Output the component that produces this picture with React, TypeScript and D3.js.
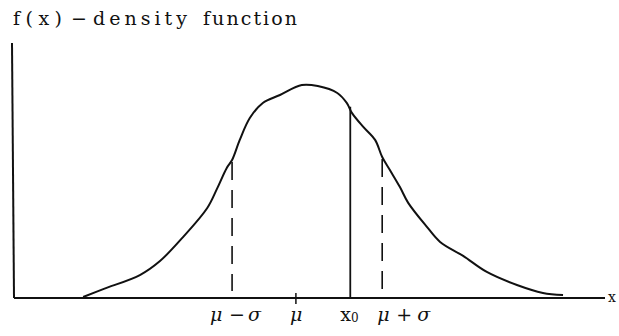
import React from "react";
import * as d3 from "d3";

// Density curve, sampled by hand along a smooth bell shape (x in arbitrary units, f(x) relative)
const curveX = [11.7, 15.1, 21.3, 24.7, 28.6, 32.7, 34.4, 36.0, 36.9, 38.2, 39.9, 42.1, 45.0, 48.7, 51.4, 54.7, 56.3, 57.2, 59.1, 61.1, 62.3, 63.6, 65.3, 66.7, 69.9, 72.1, 76.0, 80.0, 85.1, 89.5, 92.9];
const curveY = [0.004, 0.035, 0.09, 0.145, 0.239, 0.353, 0.431, 0.51, 0.541, 0.62, 0.706, 0.765, 0.796, 0.835, 0.831, 0.804, 0.765, 0.725, 0.671, 0.62, 0.553, 0.502, 0.435, 0.373, 0.278, 0.22, 0.165, 0.102, 0.051, 0.02, 0.012];

// Marked positions on the x axis
const muMinusSigma = 36.9;
const mu = 47.7;
const x0 = 56.9;
const muPlusSigma = 62.3;

const W = 619;
const H = 336;

const xScale = d3.scaleLinear().domain([0, 100]).range([14, 605]);
const yScale = d3.scaleLinear().domain([0, 1]).range([298, 43]);

const pts: [number, number][] = curveX.map((x, i) => [x, curveY[i]]);

function fAt(x: number): number {
  const i = d3.bisector((d: [number, number]) => d[0]).left(pts, x);
  if (i <= 0) return pts[0][1];
  if (i >= pts.length) return pts[pts.length - 1][1];
  const [xa, ya] = pts[i - 1];
  const [xb, yb] = pts[i];
  return ya + ((yb - ya) * (x - xa)) / (xb - xa);
}

const line = d3
  .line<[number, number]>()
  .x((d) => xScale(d[0]))
  .y((d) => yScale(d[1]))
  .curve(d3.curveCatmullRom.alpha(0.5));

export default function App() {
  const font = "'DejaVu Serif', 'Liberation Serif', serif";
  const axisY = yScale(0);
  const labelY = 321;
  return (
    <svg
      width={W}
      height={H}
      viewBox={`0 0 ${W} ${H}`}
      style={{ position: "absolute", left: 0, top: 0, background: "#fff" }}
    >
      {/* title */}
      <g fontFamily={font} fontSize={19} fill="#111">
        <text x={13} y={25} textLength={49} lengthAdjust="spacing">f(x)</text>
        <text x={71} y={25}>−</text>
        <text x={93} y={25} textLength={94} lengthAdjust="spacing">density</text>
        <text x={203} y={25} textLength={94} lengthAdjust="spacing">function</text>
      </g>

      {/* axes */}
      <line x1={12} y1={43} x2={14} y2={axisY} stroke="#111" strokeWidth={2} />
      <line x1={14} y1={axisY} x2={605} y2={axisY} stroke="#111" strokeWidth={2} />
      <text x={608} y={302} fontFamily={font} fontSize={14} fill="#111">x</text>

      {/* tick at the mean */}
      <line x1={xScale(mu)} y1={axisY - 5} x2={xScale(mu)} y2={axisY + 6} stroke="#111" strokeWidth={1.5} />

      {/* density curve */}
      <path d={line(pts) ?? ""} fill="none" stroke="#111" strokeWidth={2} strokeLinejoin="round" />

      {/* one-sigma markers */}
      {[muMinusSigma, muPlusSigma].map((v) => (
        <line
          key={v}
          x1={xScale(v)}
          y1={yScale(fAt(v)) + 2}
          x2={xScale(v)}
          y2={axisY - 7}
          stroke="#111"
          strokeWidth={1.6}
          strokeDasharray="18 10"
        />
      ))}

      {/* x0 marker */}
      <line x1={xScale(x0)} y1={yScale(fAt(x0)) - 3} x2={xScale(x0)} y2={axisY} stroke="#111" strokeWidth={1.8} />

      {/* axis labels */}
      <g fontFamily={font} fontSize={19} fill="#111">
        <text x={xScale(muMinusSigma) - 22} y={labelY} fontStyle="italic">μ</text>
        <text x={xScale(muMinusSigma) - 3} y={labelY}>−</text>
        <text x={xScale(muMinusSigma) + 16} y={labelY} fontStyle="italic">σ</text>

        <text x={xScale(mu) - 6} y={labelY} fontStyle="italic">μ</text>

        <text x={xScale(x0) - 10} y={labelY}>
          x<tspan fontSize={12} dy={1}>0</tspan>
        </text>

        <text x={xScale(muPlusSigma) - 5} y={labelY} fontStyle="italic">μ</text>
        <text x={xScale(muPlusSigma) + 14} y={labelY}>+</text>
        <text x={xScale(muPlusSigma) + 35} y={labelY} fontStyle="italic">σ</text>
      </g>
    </svg>
  );
}
